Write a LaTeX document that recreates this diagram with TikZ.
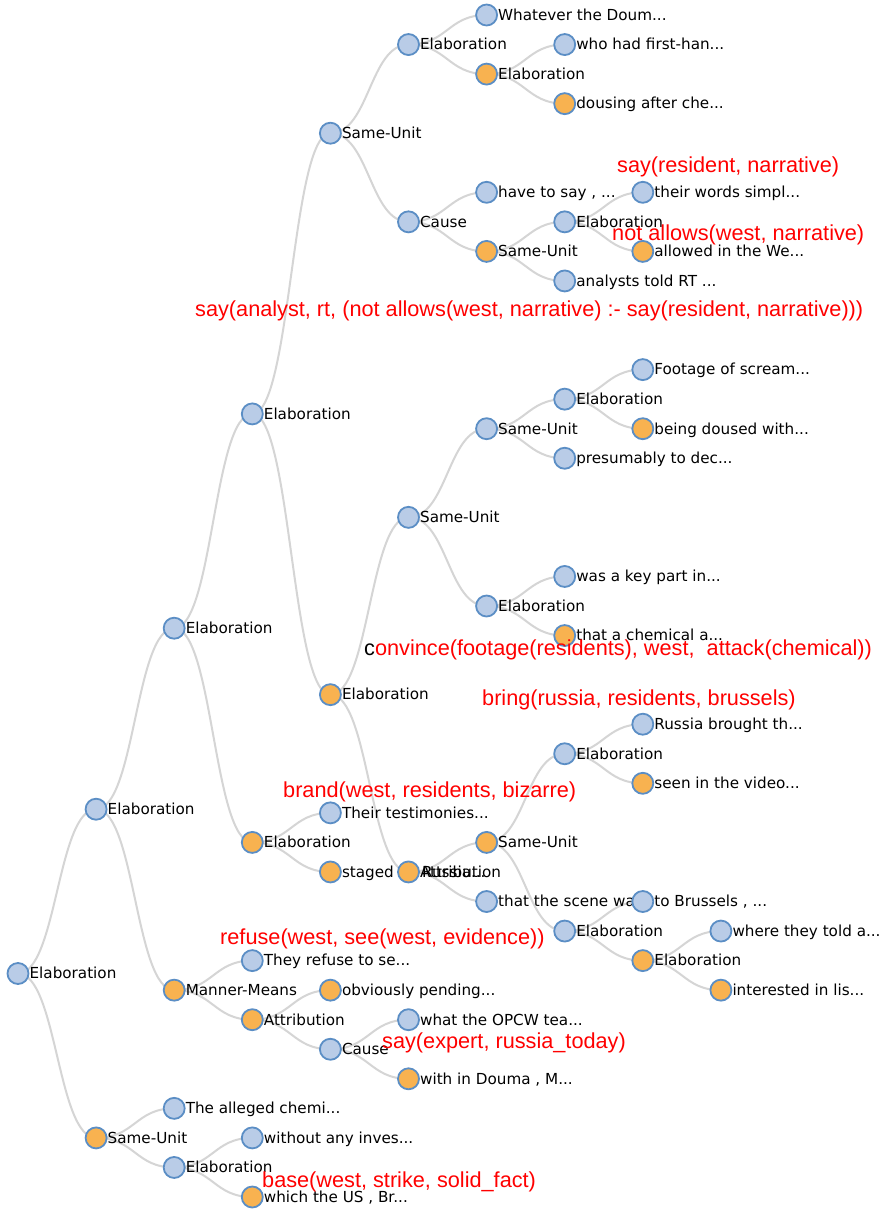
\documentclass[tikz,border=0pt]{standalone}
\usepackage{fontspec}
\setmainfont{DejaVu Sans}
\newfontfamily\factfont{Liberation Sans}
\usepackage{xcolor}
\usepackage{tikz}
\usetikzlibrary{backgrounds}

\definecolor{nodeedge}{HTML}{5B8EC5}
\definecolor{bluefill}{HTML}{B9CCE7}
\definecolor{orangefill}{HTML}{F8B250}
\definecolor{linkgray}{HTML}{D5D5D5}

\begin{document}
\begin{tikzpicture}[
  x=1pt, y=-1pt,
  bnode/.style={
    circle, draw=nodeedge, fill=bluefill, line width=1.8pt,
    minimum size=21pt, inner sep=0pt
  },
  onode/.style={bnode, fill=orangefill},
  lbl/.style={
    font=\fontsize{15.2}{18}\selectfont, inner sep=0pt,
    text height=11.4pt, text depth=0.8pt
  },
  link/.style={
    draw=linkgray, line width=2pt,
    to path={.. controls ([xshift=39pt]\tikztostart) and ([xshift=-39pt]\tikztotarget) .. (\tikztotarget)}
  },
  fact/.style={font=\factfont\fontsize{21.7}{24}\selectfont, text=red, anchor=base west, inner sep=0pt},
]
  \useasboundingbox (0,0) rectangle (883,1210);

  % Root and depth 1
  \node[bnode, label={[lbl]right:Elaboration}] (root) at (18,973.5) {};
  \node[bnode, label={[lbl]right:Elaboration}] (e1) at (96.1,809.2) {};
  \node[onode, label={[lbl]right:Same-Unit}] (su1) at (96.1,1137.9) {};

  % Depth 2
  \node[bnode, label={[lbl]right:Elaboration}] (e2) at (174.2,628.2) {};
  \node[onode, label={[lbl]right:Manner-Means}] (mm) at (174.2,990.15) {};
  \node[bnode, label={[lbl]right:The alleged chemi...}] (allg) at (174.2,1108.35) {};
  \node[bnode, label={[lbl]right:Elaboration}] (e3) at (174.2,1167.45) {};

  % Depth 3
  \node[bnode, label={[lbl]right:Elaboration}] (e4) at (252.3,413.9) {};
  \node[onode, label={[lbl]right:Elaboration}] (e5) at (252.3,842.4) {};
  \node[bnode, label={[lbl]right:They refuse to se...}] (refs) at (252.3,960.6) {};
  \node[onode, label={[lbl]right:Attribution}] (att1) at (252.3,1019.7) {};
  \node[bnode, label={[lbl]right:without any inves...}] (wout) at (252.3,1137.9) {};
  \node[onode, label={[lbl]right:which the US , Br...}] (wus) at (252.3,1197) {};

  % Depth 4
  \node[bnode, label={[lbl]right:Same-Unit}] (su2) at (330.4,133.2) {};
  \node[onode, label={[lbl]right:Elaboration}] (e6) at (330.4,694.65) {};
  \node[bnode, label={[lbl]right:Their testimonies...}] (test) at (330.4,812.85) {};
  \node[onode, label={[lbl]right:staged \hphantom{by }Russia...}] (stag) at (330.4,871.95) {};
  \node[onode, label={[lbl]right:obviously pending...}] (obv) at (330.4,990.15) {};
  \node[bnode, label={[lbl]right:Cause}] (cau1) at (330.4,1049.25) {};

  % Depth 5
  \node[bnode, label={[lbl]right:Elaboration}] (e7) at (408.5,44.55) {};
  \node[bnode, label={[lbl]right:Cause}] (cau2) at (408.5,221.85) {};
  \node[bnode, label={[lbl]right:Same-Unit}] (su3) at (408.5,517.35) {};
  \node[onode, label={[lbl]right:Attribution}] (att2) at (408.5,871.95) {};
  \node[bnode, label={[lbl]right:what the OPCW tea...}] (opcw) at (408.5,1019.7) {};
  \node[onode, label={[lbl]right:with in Douma , M...}] (doum) at (408.5,1078.8) {};

  % Depth 6
  \node[bnode, label={[lbl]right:Whatever the Doum...}] (what) at (486.6,15) {};
  \node[onode, label={[lbl]right:Elaboration}] (e8) at (486.6,74.1) {};
  \node[bnode, label={[lbl]right:have to say , ...}] (have) at (486.6,192.3) {};
  \node[onode, label={[lbl]right:Same-Unit}] (su4) at (486.6,251.4) {};
  \node[bnode, label={[lbl]right:Same-Unit}] (su5) at (486.6,428.7) {};
  \node[bnode, label={[lbl]right:Elaboration}] (e9) at (486.6,606) {};
  \node[onode, label={[lbl]right:Same-Unit}] (su6) at (486.6,842.4) {};
  \node[bnode, label={[lbl]right:that the scene wa}] (scen) at (486.6,901.5) {};

  % Depth 7
  \node[bnode, label={[lbl]right:who had first-han...}] (whoh) at (564.7,44.55) {};
  \node[onode, label={[lbl]right:dousing after che...}] (dous) at (564.7,103.65) {};
  \node[bnode, label={[lbl]right:Elaboration}] (e10) at (564.7,221.85) {};
  \node[bnode, label={[lbl]right:analysts told RT ...}] (anal) at (564.7,280.95) {};
  \node[bnode, label={[lbl]right:Elaboration}] (e11) at (564.7,399.15) {};
  \node[bnode, label={[lbl]right:presumably to dec...}] (pres) at (564.7,458.25) {};
  \node[bnode, label={[lbl]right:was a key part in...}] (keyp) at (564.7,576.45) {};
  \node[onode, label={[lbl]right:that a chemical a...}] (chem) at (564.7,635.55) {};
  \node[bnode, label={[lbl]right:Elaboration}] (e12) at (564.7,753.75) {};
  \node[bnode, label={[lbl]right:Elaboration}] (e13) at (564.7,931.05) {};

  % Depth 8
  \node[bnode, label={[lbl]right:their words simpl...}] (word) at (642.8,192.3) {};
  \node[onode, label={[lbl]right:allowed in the We...}] (allw) at (642.8,251.4) {};
  \node[bnode, label={[lbl]right:Footage of scream...}] (foot) at (642.8,369.6) {};
  \node[onode, label={[lbl]right:being doused with...}] (bdou) at (642.8,428.7) {};
  \node[bnode, label={[lbl]right:Russia brought th...}] (russ) at (642.8,724.2) {};
  \node[onode, label={[lbl]right:seen in the video...}] (seen) at (642.8,783.3) {};
  \node[bnode, label={[lbl]right:to Brussels , ...}] (brus) at (642.8,901.5) {};
  \node[onode, label={[lbl]right:Elaboration}] (e14) at (642.8,960.6) {};

  % Depth 9
  \node[bnode, label={[lbl]right:where they told a...}] (told) at (720.9,931.05) {};
  \node[onode, label={[lbl]right:interested in lis...}] (intr) at (720.9,990.15) {};

  % Links, behind the nodes
  \begin{scope}[on background layer]
    \fill[white] (0,0) rectangle (883,1210);
    \draw[link] (root.center) to (e1.center);
    \draw[link] (root.center) to (su1.center);
    \draw[link] (e1.center) to (e2.center);
    \draw[link] (e1.center) to (mm.center);
    \draw[link] (su1.center) to (allg.center);
    \draw[link] (su1.center) to (e3.center);
    \draw[link] (e2.center) to (e4.center);
    \draw[link] (e2.center) to (e5.center);
    \draw[link] (mm.center) to (refs.center);
    \draw[link] (mm.center) to (att1.center);
    \draw[link] (e3.center) to (wout.center);
    \draw[link] (e3.center) to (wus.center);
    \draw[link] (e4.center) to (su2.center);
    \draw[link] (e4.center) to (e6.center);
    \draw[link] (e5.center) to (test.center);
    \draw[link] (e5.center) to (stag.center);
    \draw[link] (att1.center) to (obv.center);
    \draw[link] (att1.center) to (cau1.center);
    \draw[link] (su2.center) to (e7.center);
    \draw[link] (su2.center) to (cau2.center);
    \draw[link] (e6.center) to (su3.center);
    \draw[link] (e6.center) to (att2.center);
    \draw[link] (cau1.center) to (opcw.center);
    \draw[link] (cau1.center) to (doum.center);
    \draw[link] (e7.center) to (what.center);
    \draw[link] (e7.center) to (e8.center);
    \draw[link] (cau2.center) to (have.center);
    \draw[link] (cau2.center) to (su4.center);
    \draw[link] (su3.center) to (su5.center);
    \draw[link] (su3.center) to (e9.center);
    \draw[link] (att2.center) to (su6.center);
    \draw[link] (att2.center) to (scen.center);
    \draw[link] (e8.center) to (whoh.center);
    \draw[link] (e8.center) to (dous.center);
    \draw[link] (su4.center) to (e10.center);
    \draw[link] (su4.center) to (anal.center);
    \draw[link] (su5.center) to (e11.center);
    \draw[link] (su5.center) to (pres.center);
    \draw[link] (e9.center) to (keyp.center);
    \draw[link] (e9.center) to (chem.center);
    \draw[link] (su6.center) to (e12.center);
    \draw[link] (su6.center) to (e13.center);
    \draw[link] (e10.center) to (word.center);
    \draw[link] (e10.center) to (allw.center);
    \draw[link] (e11.center) to (foot.center);
    \draw[link] (e11.center) to (bdou.center);
    \draw[link] (e12.center) to (russ.center);
    \draw[link] (e12.center) to (seen.center);
    \draw[link] (e13.center) to (brus.center);
    \draw[link] (e13.center) to (e14.center);
    \draw[link] (e14.center) to (told.center);
    \draw[link] (e14.center) to (intr.center);
  \end{scope}

  % Logic annotations
  \node[fact] (f1) at (617,172) {say(resident, narrative)};
  \node[fact] (f2) at (612,240) {not allows(west, narrative)};
  \node[fact] (f3) at (195,316.5) {say(analyst, rt, (not allows(west, narrative) :- say(resident, narrative)))};
  \node[fact] (f4) at (364,655) {\textcolor{black}{c}onvince(footage(residents), west,\ \ attack(chemical))};
  \node[fact] (f5) at (482,705.5) {bring(russia, residents, brussels)};
  \node[fact] (f6) at (283,797) {brand(west, residents, bizarre)};
  \node[fact] (f7) at (220,944) {refuse(west, see(west, evidence))};
  \node[fact] (f8) at (382,1048) {say(expert, russia\_today)};
  \node[fact] (f9) at (262,1187) {base(west, strike, solid\_fact)};
\end{tikzpicture}
\end{document}
